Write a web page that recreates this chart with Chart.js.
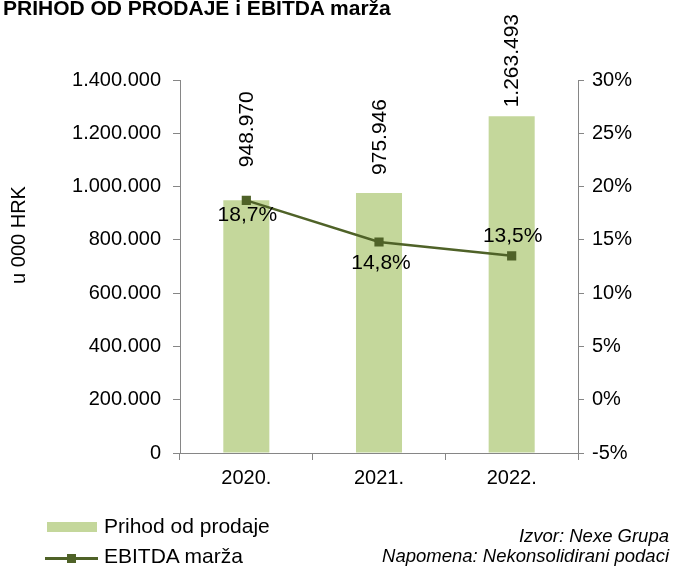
<!DOCTYPE html>
<html>
<head>
<meta charset="utf-8">
<script src="https://cdn.jsdelivr.net/npm/chart.js@4"></script>
<style>
  html, body { margin: 0; padding: 0; background: #fff; }
  #wrap { position: relative; width: 673px; height: 566px; overflow: hidden; font-family: "Liberation Sans", Arial, sans-serif; color: #000; }
  #c { position: absolute; left: 0; top: 0; }
  .txt { position: absolute; white-space: nowrap; }
  #title { left: 3px; top: -3px; font-size: 21px; line-height: 21px; font-weight: bold; }
  #ytitle { left: -82px; top: 225px; width: 200px; height: 20px; font-size: 20px; line-height: 20px; text-align: center; transform: rotate(-90deg); }
  .leg { font-size: 21px; line-height: 21px; left: 104px; }
  .note { font-size: 18.5px; line-height: 18px; font-style: italic; right: 4px; text-align: right; }
  .sw { position: absolute; }
</style>
</head>
<body>
<div id="wrap">
  <canvas id="c" width="673" height="566"></canvas>
  <div id="title" class="txt">PRIHOD OD PRODAJE i EBITDA marža</div>
  <div id="ytitle" class="txt"></div>
  <div class="sw" id="swBar" style="left:47px;top:522px;width:50px;height:10px;"></div>
  <div class="sw" id="swLine" style="left:45px;top:557px;width:53px;height:2.5px;"></div>
  <div class="sw" id="swPt" style="left:67px;top:554px;width:9px;height:9px;"></div>
  <div class="txt leg" id="leg0" style="top:515px;"></div>
  <div class="txt leg" id="leg1" style="top:545px;"></div>
  <div class="txt note" style="top:527px;">Izvor: Nexe Grupa</div>
  <div class="txt note" style="top:547px;">Napomena: Nekonsolidirani podaci</div>
</div>
<script>
const categories = ['2020.', '2021.', '2022.'];
const revenue = [948970, 975946, 1263493];
const ebitdaMargin = [18.7, 14.8, 13.5];
const seriesNames = ['Prihod od prodaje', 'EBITDA marža'];
const axisTitle = 'u 000 HRK';

const BAR_COLOR = '#c4d79b';
const LINE_COLOR = '#4f6228';
const AXIS_COLOR = '#868686';
const FONT = '"Liberation Sans", Arial, sans-serif';

function fmtThousands(v) {
  const s = Math.round(Math.abs(v)).toString();
  const out = s.replace(/\B(?=(\d{3})+(?!\d))/g, '.');
  return (v < 0 ? '-' : '') + out;
}
function fmtPct(v) { return v.toFixed(1).replace('.', ',') + '%'; }

document.getElementById('swBar').style.background = BAR_COLOR;
document.getElementById('swLine').style.background = LINE_COLOR;
document.getElementById('swPt').style.background = LINE_COLOR;
document.getElementById('leg0').textContent = seriesNames[0];
document.getElementById('leg1').textContent = seriesNames[1];
document.getElementById('ytitle').textContent = axisTitle;

const labelPlugin = {
  id: 'valueLabels',
  afterDatasetsDraw(chart) {
    const ctx = chart.ctx;
    ctx.save();
    ctx.fillStyle = '#000';
    ctx.font = '21px ' + FONT;
    // bar labels (rotated)
    const barGaps = [33, 18, 9];
    chart.getDatasetMeta(0).data.forEach((el, i) => {
      ctx.save();
      ctx.translate(el.x + 1, el.y - barGaps[i]);
      ctx.rotate(-Math.PI / 2);
      ctx.textAlign = 'left';
      ctx.textBaseline = 'middle';
      ctx.fillText(fmtThousands(revenue[i]), 0, 0);
      ctx.restore();
    });
    // line labels
    const dx = [1, 2, 1];
    const dy = [15, 21, -20];
    chart.getDatasetMeta(1).data.forEach((el, i) => {
      ctx.textAlign = 'center';
      ctx.textBaseline = 'middle';
      ctx.fillText(fmtPct(ebitdaMargin[i]), el.x + dx[i], el.y + dy[i]);
    });
    ctx.restore();
  }
};

new Chart(document.getElementById('c'), {
  type: 'bar',
  data: {
    labels: categories,
    datasets: [
      {
        type: 'bar',
        label: seriesNames[0],
        data: revenue,
        backgroundColor: BAR_COLOR,
        borderWidth: 0,
        barPercentage: 1,
        categoryPercentage: 0.347,
        yAxisID: 'y',
        order: 2
      },
      {
        type: 'line',
        label: seriesNames[1],
        data: ebitdaMargin,
        borderColor: LINE_COLOR,
        backgroundColor: LINE_COLOR,
        borderWidth: 2.5,
        pointStyle: 'rect',
        pointRadius: 6.5,
        pointBorderWidth: 0,
        tension: 0,
        yAxisID: 'y1',
        order: 1
      }
    ]
  },
  options: {
    responsive: false,
    animation: false,
    devicePixelRatio: 1,
    layout: { padding: { top: 80, left: 0, right: 0, bottom: 0 } },
    plugins: {
      legend: { display: false },
      tooltip: { enabled: false },
      title: { display: false }
    },
    scales: {
      x: {
        offset: true,
        grid: { display: true, drawOnChartArea: false, drawTicks: true, tickLength: 7, color: AXIS_COLOR, offset: true },
        border: { display: true, color: AXIS_COLOR, width: 1 },
        ticks: { color: '#000', font: { family: FONT, size: 20 }, padding: 6 },
        afterFit(s) { s.height = 113; }
      },
      y: {
        position: 'left',
        min: 0, max: 1400000,
        ticks: { stepSize: 200000, color: '#000', font: { family: FONT, size: 20 }, padding: 12, callback: v => fmtThousands(v) },
        grid: { display: true, drawOnChartArea: false, drawTicks: true, tickLength: 7, color: AXIS_COLOR },
        border: { display: true, color: AXIS_COLOR, width: 1 },
        afterFit(s) { s.width = 180; }
      },
      y1: {
        position: 'right',
        min: -5, max: 30,
        ticks: { stepSize: 5, color: '#000', font: { family: FONT, size: 20 }, padding: 8, callback: v => v + '%' },
        grid: { display: true, drawOnChartArea: false, drawTicks: true, tickLength: 6, color: AXIS_COLOR },
        border: { display: true, color: AXIS_COLOR, width: 1 },
        afterFit(s) { s.width = 95; }
      }
    }
  },
  plugins: [labelPlugin]
});
</script>
</body>
</html>
